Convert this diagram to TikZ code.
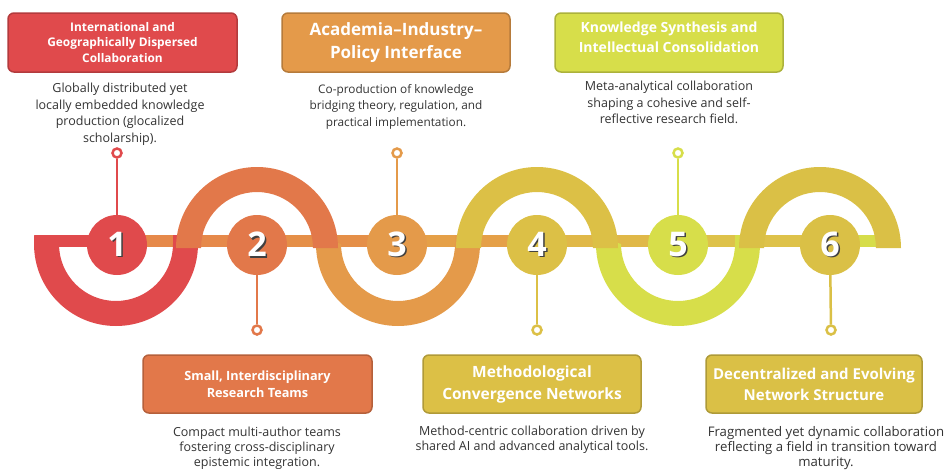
\documentclass[tikz,border=0pt]{standalone}
\usepackage{fontspec}
\setmainfont{Open Sans}
\usepackage{tikz}

\definecolor{colA}{HTML}{E04A4C}
\definecolor{colB}{HTML}{E2784A}
\definecolor{colC}{HTML}{E49A4A}
\definecolor{colD}{HTML}{DCC046}
\definecolor{colE}{HTML}{D7DE4A}
\definecolor{colF}{HTML}{DAC046}
\definecolor{bandB}{HTML}{E6894A}
\definecolor{bandC}{HTML}{E58F48}
\definecolor{bandD}{HTML}{E5A048}
\definecolor{bandE}{HTML}{E0B848}
\definecolor{bandF}{HTML}{DEC24A}
\definecolor{bandG}{HTML}{D6DD4A}
\definecolor{textgray}{HTML}{333333}

\newcommand{\bignum}[1]{\makebox[0pt][l]{\hspace{1.6pt}\raisebox{-1.6pt}{\color{black!75}#1}}#1}

\tikzset{
  titlebox/.style={draw=#1!80!black, fill=#1, line width=1.5pt, rounded corners=6pt,
    text=white, align=center, inner sep=0pt},
  desc/.style={anchor=north, align=center, inner sep=0pt, text=textgray,
    font=\fontsize{12.5}{16.5}\selectfont},
  numdisc/.style={circle, fill=#1, minimum size=60pt, inner sep=0pt, text=white,
    font=\fontsize{34}{34}\selectfont\bfseries},
  tipring/.style={circle, draw=#1, fill=white, line width=2.5pt, minimum size=9pt, inner sep=0pt},
  stem/.style={draw=#1, line width=2.5pt}
}

\begin{document}
\begin{tikzpicture}[x=1pt,y=1pt]
\useasboundingbox (0,0) rectangle (946,-472);

% band
\fill[colA] (35,-235) rectangle (117,-247);
\fill[bandB] (117,-235) rectangle (257,-247);
\fill[bandC] (257,-235) rectangle (397,-247);
\fill[bandD] (397,-235) rectangle (537,-247);
\fill[bandE] (537,-235) rectangle (678,-247);
\fill[bandF] (678,-235) rectangle (830,-247);
\fill[bandG] (830,-235) rectangle (877,-247);

% lower half rings
\fill[colA] (34,-235) -- (34,-244) arc[start angle=180,end angle=360,radius=82]
  -- (198,-235) -- (173,-235) -- (173,-244) arc[start angle=0,end angle=-180,radius=57] -- cycle;
\fill[colC] (316,-235) -- (316,-244) arc[start angle=180,end angle=360,radius=82]
  -- (480,-235) -- (455,-235) -- (455,-244) arc[start angle=0,end angle=-180,radius=57] -- cycle;
\fill[colE] (596,-235) -- (596,-244) arc[start angle=180,end angle=360,radius=82]
  -- (760,-235) -- (735,-235) -- (735,-244) arc[start angle=0,end angle=-180,radius=57] -- cycle;

% upper half rings
\fill[colB] (176,-248) arc[start angle=180,end angle=0,radius=81]
  -- (313,-248) arc[start angle=0,end angle=180,radius=56] -- cycle;
\fill[colD] (456,-248) arc[start angle=180,end angle=0,radius=81]
  -- (593,-248) arc[start angle=0,end angle=180,radius=56] -- cycle;
\fill[colF] (739,-248) arc[start angle=180,end angle=0,radius=81]
  -- (876,-248) arc[start angle=0,end angle=180,radius=56] -- cycle;

% steps
\node[numdisc=colA] (n1) at (117,-245) {\bignum{1}};
\node[numdisc=colB] (n2) at (257,-245) {\bignum{2}};
\node[numdisc=colC] (n3) at (397,-245) {\bignum{3}};
\node[numdisc=colD] (n4) at (537,-245) {\bignum{4}};
\node[numdisc=colE] (n5) at (678,-245) {\bignum{5}};
\node[numdisc=colF] (n6) at (830,-245) {\bignum{6}};

% pins
\node[tipring=colA] (p1) at (117,-153) {};
\node[tipring=colB] (p2) at (257,-330) {};
\node[tipring=colC] (p3) at (397,-153) {};
\node[tipring=colD] (p4) at (537,-330) {};
\node[tipring=colE] (p5) at (678,-153) {};
\node[tipring=colF] (p6) at (831,-330) {};
\draw[stem=colA] (n1) -- (p1);
\draw[stem=colB] (n2) -- (p2);
\draw[stem=colC] (n3) -- (p3);
\draw[stem=colD] (n4) -- (p4);
\draw[stem=colE] (n5) -- (p5);
\draw[stem=colF] (n6) -- (p6);

% title boxes
\node[titlebox=colA, minimum width=229pt, minimum height=59pt,
  font=\fontsize{11.9}{15.7}\selectfont\bfseries] (t1) at (122.5,-42.5)
  {International and\\Geographically Dispersed\\Collaboration};
\node[titlebox=colB, minimum width=229pt, minimum height=58pt,
  font=\fontsize{12.7}{17}\selectfont\bfseries] (t2) at (257.5,-384)
  {Small, Interdisciplinary\\Research Teams};
\node[titlebox=colC, minimum width=228pt, minimum height=59pt,
  font=\fontsize{17}{23}\selectfont\bfseries] (t3) at (396,-42.5)
  {Academia--Industry--\\Policy Interface};
\node[titlebox=colD, minimum width=218pt, minimum height=58pt,
  font=\fontsize{15.5}{22}\selectfont\bfseries] (t4) at (532,-384)
  {Methodological\\Convergence Networks};
\node[titlebox=colE, minimum width=228pt, minimum height=59pt,
  font=\fontsize{14}{20}\selectfont\bfseries] (t5) at (669,-42.5)
  {\raisebox{4pt}[\height][\depth]{\begin{tabular}{@{}c@{}}Knowledge Synthesis and\\Intellectual Consolidation\end{tabular}}};
\node[titlebox=colF, minimum width=216pt, minimum height=58pt,
  font=\fontsize{15}{21}\selectfont\bfseries] (t6) at (814,-384)
  {Decentralized and Evolving\\Network Structure};

% descriptions
\node[desc] (d1) at (120,-83) {Globally distributed yet\\locally embedded knowledge\\production (glocalized\\scholarship).};
\node[desc, font=\fontsize{12.5}{15}\selectfont] (d2) at (257,-427) {Compact multi-author teams\\fostering cross-disciplinary\\epistemic integration.};
\node[desc, font=\fontsize{11.8}{16.5}\selectfont] (d3) at (396,-84) {Co-production of knowledge\\bridging theory, regulation, and\\practical implementation.};
\node[desc, font=\fontsize{12.5}{15}\selectfont] (d4) at (532,-426) {Method-centric collaboration driven by\\shared AI and advanced analytical tools.};
\node[desc] (d5) at (669,-81) {Meta-analytical collaboration\\shaping a cohesive and self-\\reflective research field.};
\node[desc, font=\fontsize{13.2}{15}\selectfont] (d6) at (826,-426) {Fragmented yet dynamic collaboration\\reflecting a field in transition toward\\maturity.};

\end{tikzpicture}
\end{document}
